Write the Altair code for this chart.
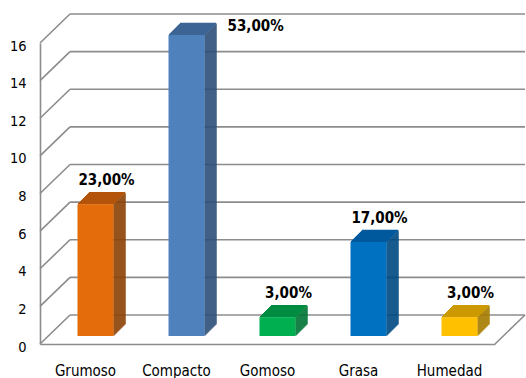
import altair as alt
import pandas as pd

# ---- data ----
categories = ["Grumoso", "Compacto", "Gomoso", "Grasa", "Humedad"]
counts = [7, 16, 1, 5, 1]
pct_labels = ["23,00%", "53,00%", "3,00%", "17,00%", "3,00%"]
y_ticks = [0, 2, 4, 6, 8, 10, 12, 14, 16]

# ---- styles ----
front_colors = ["#E46C0A", "#4F81BD", "#00B050", "#0070C0", "#FFC000"]
top_colors = ["#B3550A", "#3D6594", "#008C40", "#005A9C", "#CC9A00"]
side_colors = ["#8E4306", "#30517A", "#007535", "#004A82", "#A67D00"]
GRID = "#8c8c8c"
FONT = "DejaVu Sans Condensed, Liberation Sans Narrow, Arial Narrow, Liberation Sans, sans-serif"

W, H = 455, 301       # front plane size
DX, DY = 30, 29       # wall depth
BY = 8                # bar shift into depth
F0, F1 = -8, 28       # front face x-extent relative to band center
D = 12                # bar depth

df = pd.DataFrame({"cat": categories, "val": counts, "lab": pct_labels})
grid_df = pd.DataFrame({"t": y_ticks})

xs = alt.Scale(domain=categories, paddingInner=0, paddingOuter=0)
ys = alt.Scale(domain=[0, 16], nice=False, zero=True)

yaxis = alt.Axis(values=y_ticks, domain=True, domainColor=GRID, domainWidth=1.6,
                 ticks=False, grid=False, labelFont=FONT, labelFontSize=14.5,
                 labelColor="black", labelPadding=14, labelOffset=3, title=None)
xaxis = alt.Axis(domain=True, domainColor=GRID, domainWidth=1.6, ticks=False,
                 grid=False, labelAngle=0, labelFont=FONT, labelFontSize=15,
                 labelColor="black", labelPadding=19, title=None)


def X():
    return alt.X("cat:N", scale=xs, axis=xaxis)


def Y(f):
    return alt.Y(f, scale=ys, axis=yaxis)


def col(colors):
    return alt.Color("cat:N", scale=alt.Scale(domain=categories, range=colors), legend=None)


# back wall gridlines
back = alt.Chart(grid_df).mark_rule(color=GRID, strokeWidth=1.6, yOffset=-DY).encode(
    x=alt.value(DX), x2=alt.value(W + DX), y=Y("t:Q"))
# left wall diagonals
diag = alt.Chart(grid_df).mark_rule(color=GRID, strokeWidth=1.6, y2Offset=-DY).encode(
    x=alt.value(0), x2=alt.value(DX), y=Y("t:Q"), y2="t:Q")
# floor right edge
floor_edge = alt.Chart(grid_df).transform_filter("datum.t == 0").mark_rule(
    color=GRID, strokeWidth=1.6, y2Offset=-DY).encode(
    x=alt.value(W), x2=alt.value(W + DX), y=Y("t:Q"), y2="t:Q")

base = alt.Chart(df)
layers = [back, diag, floor_edge]

# side faces (1px column strips)
for j in range(D):
    off = -(BY + j + 0.5)
    layers.append(base.mark_rule(strokeWidth=1.4, xOffset=F1 + j + 0.5,
                                 yOffset=off, y2Offset=off).encode(
        x=X(), y=Y("val:Q"), y2=alt.datum(0), color=col(side_colors)))

# top faces (1px row strips)
for j in range(D):
    off = -(BY + j + 0.5)
    layers.append(base.mark_rule(strokeWidth=1.4, xOffset=F0 + j + 0.5,
                                 x2Offset=F1 + j + 0.5, yOffset=off).encode(
        x=X(), x2="cat:N", y=Y("val:Q"), color=col(top_colors)))

# front faces
layers.append(base.mark_rule(strokeWidth=F1 - F0, xOffset=(F0 + F1) / 2,
                             yOffset=-BY, y2Offset=-BY, strokeCap="butt").encode(
    x=X(), y=Y("val:Q"), y2=alt.datum(0), color=col(front_colors)))

# value labels
lab_common = dict(font=FONT, fontSize=15, fontWeight="bold", color="black")
layers.append(base.transform_joinaggregate(mx="max(val)").transform_filter(
    "datum.val < datum.mx").mark_text(align="center", baseline="alphabetic",
                                      xOffset=21, yOffset=-27, **lab_common).encode(
    x=X(), y=Y("val:Q"), text="lab:N"))
layers.append(base.transform_joinaggregate(mx="max(val)").transform_filter(
    "datum.val == datum.mx").mark_text(align="left", baseline="alphabetic",
                                       xOffset=51, yOffset=-12, **lab_common).encode(
    x=X(), y=Y("val:Q"), text="lab:N"))

chart = alt.layer(*layers).resolve_scale(color="independent").properties(
    width=W, height=H, autosize="none",
    padding={"left": 40, "top": 43, "right": 31, "bottom": 34},
    background="white",
).configure_view(stroke=None)

chart.save("out.html", embed_options={"renderer": "svg", "actions": False})
